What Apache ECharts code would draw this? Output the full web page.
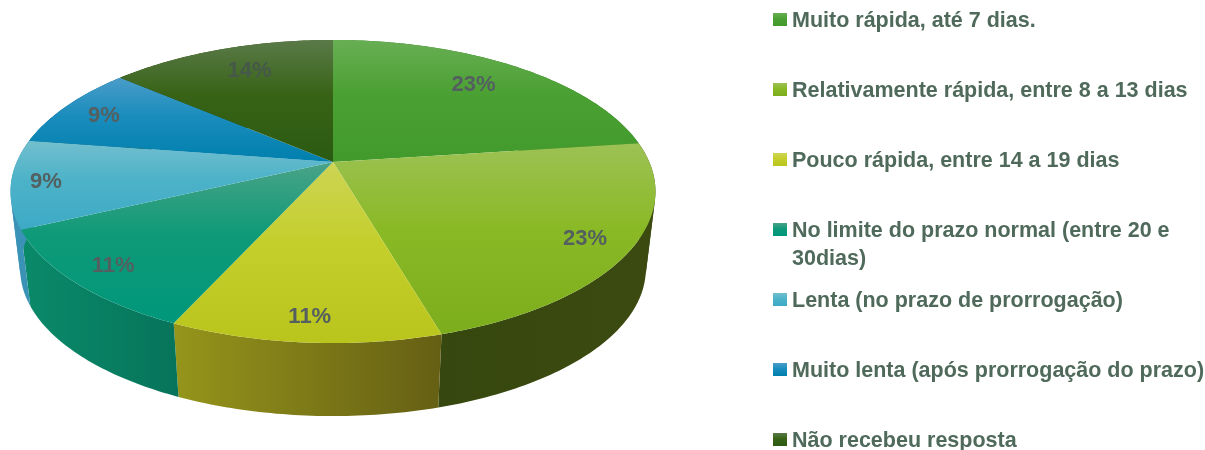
<!DOCTYPE html>
<html>
<head>
<meta charset="utf-8">
<style>html,body{margin:0;padding:0;background:#fff}#c{width:1205px;height:450px}</style>
<script src="https://cdn.jsdelivr.net/npm/echarts@6/dist/echarts.min.js"></script>
</head>
<body>
<div id="c"></div>
<script>
const categories = [
  'Muito rápida, até 7 dias.',
  'Relativamente rápida, entre 8 a 13 dias',
  'Pouco rápida, entre 14 a 19 dias',
  'No limite do prazo normal (entre 20 e\n30dias)',
  'Lenta (no prazo de prorrogação)',
  'Muito lenta (após prorrogação do prazo)',
  'Não recebeu resposta'
];
// shares; the picture's labels are their rounded values
const shares = [22.9, 22.6, 11.3, 11.2, 9.4, 8.9, 13.7];
const percentLabels = ['23%', '23%', '11%', '11%', '9%', '9%', '14%'];

const topColors = [
  ['#68ae54', '#4aa032', '#439a2c'], ['#9cc254', '#8ab926', '#7cad1c'], ['#cdd454', '#c4cf2c', '#b9c41c'], ['#4aa387', '#0e9a78', '#00977a'],
  ['#72bfce', '#4cb2c8', '#3eaac6'], ['#4a9cc9', '#1a8dbd', '#007fad'], ['#5a7a48', '#386316', '#2b5a12']
];
const wallColors = [
  ['#2f7a20', '#2f7a20'], ['#36480f', '#3c4a10'], ['#95951b', '#655f14'], ['#0a8a6a', '#06745a'],
  ['#3a92b6', '#3a92b6'], ['#0a6a90', '#0a6a90'], ['#24480f', '#24480f']
];
const labelRadius = [0.79, 0.87, 0.88, 0.87, 0.885, 0.82, 0.79];
const labelShiftX = [-7, -2, 1, 0, -3, -8, 8];
const legendRowY = [19.5, 89.5, 159.5, 229.5, 299.5, 369.5, 439.5];

// projection of the tilted disc
const CX = 333, CY = 162, K = 0.1947, A = 145.8, B = 316.3, DEPTH = 0.97, VY = 2777;
function project(pct, r) {
  const t = pct / 100 * 2 * Math.PI;
  const u = r * Math.sin(t), v = -r * Math.cos(t), d = 1 - K * v;
  return [CX + B * u / d, CY + A * v / d];
}
function lower(p) {
  return [CX + DEPTH * (p[0] - CX), VY + DEPTH * (p[1] - VY)];
}
function arc(from, to) {
  const pts = [], n = Math.max(4, Math.ceil((to - from) * 4));
  for (let i = 0; i <= n; i++) pts.push(project(from + (to - from) * i / n, 1));
  return pts;
}
function grad(c) {
  return {
    type: 'linear', x: 0, y: 0, x2: 0, y2: 1,
    colorStops: c.length === 3
      ? [{ offset: 0, color: c[0] }, { offset: 0.45, color: c[1] }, { offset: 1, color: c[2] }]
      : [{ offset: 0, color: c[0] }, { offset: 1, color: c[1] }]
  };
}
// facing of one wall quad, used to split the wall where it folds at the silhouette
function facing(a, b) {
  const l = lower(a);
  return Math.sign((b[0] - a[0]) * (l[1] - a[1]) - (b[1] - a[1]) * (l[0] - a[0]));
}

let running = 0;
const rows = shares.map((s, i) => { const r = [s, running, i]; running += s; return r; });

const renderWall = (params, api) => {
  const from = api.value(1), to = from + api.value(0), i = api.value(2);
  const rim = arc(from, to);
  const xs = rim.map(p => p[0]).concat(rim.map(p => lower(p)[0]));
  const paint = {
    type: 'linear', global: true, x: Math.min(...xs), y: 0, x2: Math.max(...xs), y2: 0,
    colorStops: [{ offset: 0, color: wallColors[i][0] }, { offset: 1, color: wallColors[i][1] }]
  };
  const sections = [];
  let current = [rim[0]];
  for (let k = 0; k < rim.length - 1; k++) {
    current.push(rim[k + 1]);
    const next = rim[k + 2];
    if (!next || facing(rim[k + 1], next) !== facing(rim[k], rim[k + 1])) {
      sections.push(current);
      current = [rim[k + 1]];
    }
  }
  return {
    type: 'group',
    children: sections.map(run => ({
      type: 'polygon', silent: true,
      shape: { points: run.concat(run.map(lower).reverse()) },
      style: { fill: paint }
    }))
  };
};
const renderTop = (params, api) => {
  const from = api.value(1), to = from + api.value(0), i = api.value(2);
  return {
    type: 'polygon', silent: true,
    shape: { points: [[CX, CY]].concat(arc(from, to)) },
    style: { fill: grad(topColors[i]) }
  };
};
const renderLabel = (params, api) => {
  const from = api.value(1), to = from + api.value(0), i = api.value(2);
  const p = project((from + to) / 2, labelRadius[i]);
  return {
    type: 'text', silent: true, x: p[0] + labelShiftX[i], y: p[1] + 1,
    style: {
      text: percentLabels[i], align: 'center', verticalAlign: 'middle',
      font: 'bold 22px "Liberation Sans", Arial, sans-serif', fill: i === 6 ? '#46584a' : '#545f60'
    }
  };
};

const legendElements = [];
categories.forEach((name, i) => {
  legendElements.push({
    type: 'rect', left: 773, top: legendRowY[i] - 6.5, shape: { width: 14, height: 13 },
    style: { fill: grad(topColors[i]) }
  });
  legendElements.push({
    type: 'text', left: 792, top: legendRowY[i] - 12,
    style: {
      text: name, fill: '#4f6a5b', lineHeight: 27.5,
      font: 'bold 21.5px "Liberation Sans", Arial, sans-serif'
    }
  });
});

const chart = echarts.init(document.getElementById('c'), null, { renderer: 'canvas' });
chart.setOption({
  animation: false,
  backgroundColor: '#ffffff',
  graphic: { elements: legendElements },
  series: [
    { type: 'custom', coordinateSystem: 'none', data: rows, renderItem: renderWall, z: 1 },
    { type: 'custom', coordinateSystem: 'none', data: rows, renderItem: renderTop, z: 2 },
    { type: 'custom', coordinateSystem: 'none', data: rows, renderItem: renderLabel, z: 3 }
  ]
});
</script>
</body>
</html>
